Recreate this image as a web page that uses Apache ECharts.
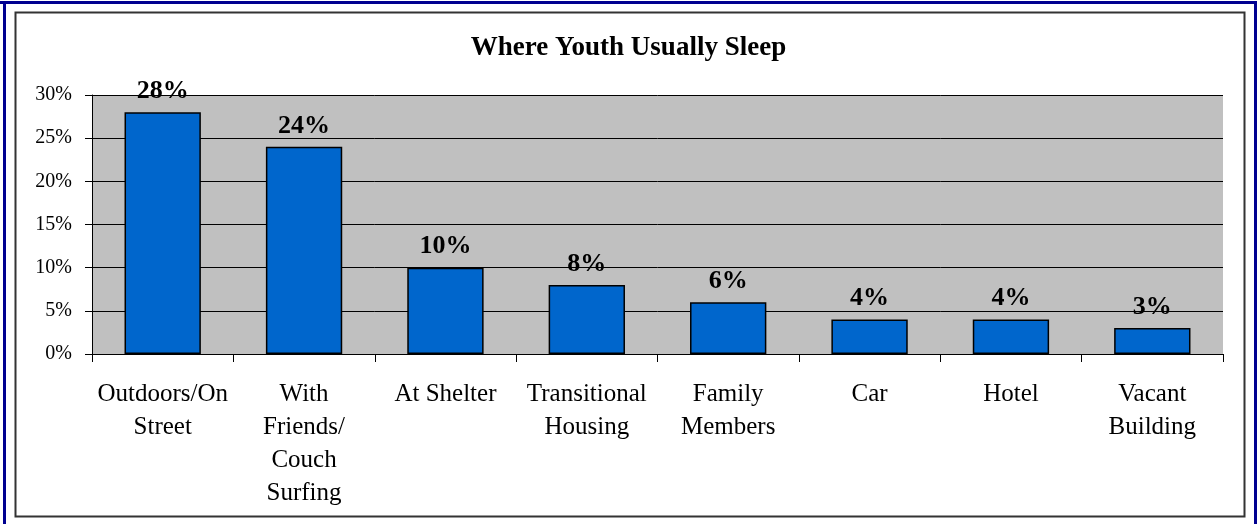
<!DOCTYPE html>
<html>
<head>
<meta charset="utf-8">
<title>Where Youth Usually Sleep</title>
<script src="https://cdn.jsdelivr.net/npm/echarts@6/dist/echarts.min.js"></script>
<style>
  html, body { margin: 0; padding: 0; background: #ffffff; }
  #chart { width: 1257px; height: 524px; }
</style>
</head>
<body>
<div id="chart"></div>
<script>
// data
const categories = [
  "Outdoors/On\nStreet",
  "With\nFriends/\nCouch\nSurfing",
  "At Shelter",
  "Transitional\nHousing",
  "Family\nMembers",
  "Car",
  "Hotel",
  "Vacant\nBuilding",
];
const percents = [28, 24, 10, 8, 6, 4, 4, 3];
const yTicks = [0, 5, 10, 15, 20, 25, 30];

const serif = "'Liberation Serif', 'Times New Roman', serif";

let chart = echarts.init(document.getElementById("chart"));
chart.setOption({
  animation: false,
  backgroundColor: "#ffffff",
  textStyle: { fontFamily: serif, color: "#000" },
  title: {
    text: "Where Youth Usually Sleep",
    left: "center",
    top: 30,
    textStyle: { fontFamily: serif, fontSize: 27, fontWeight: "bold", color: "#000" },
  },
  graphic: [
    // blue outer frame
    { type: "rect", shape: { x: 0, y: 1, width: 1257, height: 3 }, style: { fill: "#000090" } },
    { type: "rect", shape: { x: 3, y: 1, width: 3, height: 523 }, style: { fill: "#000090" } },
    { type: "rect", shape: { x: 1254, y: 1, width: 3, height: 523 }, style: { fill: "#000090" } },
    // inner frame
    {
      type: "rect",
      shape: { x: 15.5, y: 12.5, width: 1229, height: 504 },
      style: { fill: "none", stroke: "#333", lineWidth: 2 },
    },
  ],
  grid: {
    left: 92,
    top: 95,
    right: 34,
    bottom: 170,
    show: true,
    backgroundColor: "#C0C0C0",
    borderWidth: 0,
  },
  xAxis: {
    type: "category",
    data: categories,
    axisLine: { show: true, lineStyle: { color: "#000", width: 1 } },
    axisTick: { show: true, length: 8, lineStyle: { color: "#000" } },
    axisLabel: {
      interval: 0,
      margin: 24,
      fontSize: 25,
      lineHeight: 33,
      color: "#000",
      fontFamily: serif,
    },
  },
  yAxis: {
    type: "value",
    min: yTicks[0],
    max: yTicks[yTicks.length - 1],
    interval: 5,
    axisLine: { show: true, lineStyle: { color: "#000", width: 1 } },
    axisTick: { show: true, length: 7, lineStyle: { color: "#000" } },
    axisLabel: {
      margin: 20,
      fontSize: 20,
      color: "#000",
      fontFamily: serif,
      formatter: "{value}%",
    },
    splitLine: { show: true, lineStyle: { color: "#000", width: 1 } },
  },
  series: [
    {
      type: "bar",
      data: percents,
      barWidth: "54%",
      itemStyle: { color: "#0066CC", borderColor: "#000", borderWidth: 1.5 },
      label: {
        show: true,
        position: "top",
        distance: 8,
        formatter: "{c}%",
        fontSize: 26,
        fontWeight: "bold",
        color: "#000",
        fontFamily: serif,
      },
    },
  ],
});
</script>
</body>
</html>
